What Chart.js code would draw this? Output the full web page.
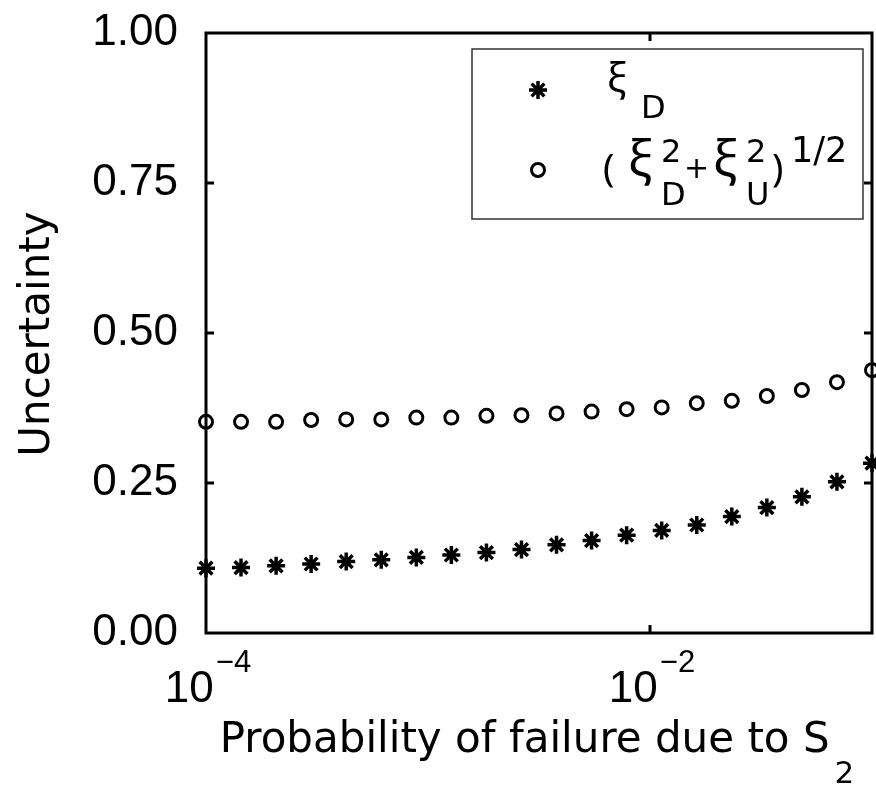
<!DOCTYPE html>
<html><head><meta charset="utf-8">
<script src="https://cdn.jsdelivr.net/npm/chart.js@4/dist/chart.umd.min.js"></script>
<style>html,body{margin:0;padding:0;background:#fff;overflow:hidden}canvas{display:block}</style>
</head><body><canvas id="c" width="876" height="785" style="width:876px;height:785px"></canvas>
<script>
// ---- data ----
const probability = [1.0e-4, 1.438e-4, 2.069e-4, 2.976e-4, 4.281e-4, 6.158e-4, 8.859e-4,
  1.274e-3, 1.833e-3, 2.637e-3, 3.793e-3, 5.456e-3, 7.848e-3,
  1.129e-2, 1.624e-2, 2.336e-2, 3.360e-2, 4.833e-2, 6.952e-2, 1.0e-1];
const xiD = [0.108, 0.109, 0.112, 0.115, 0.119, 0.122, 0.126, 0.130, 0.134, 0.139,
  0.147, 0.154, 0.163, 0.171, 0.180, 0.194, 0.209, 0.227, 0.252, 0.283];
const xiTotal = [0.352, 0.352, 0.352, 0.355, 0.356, 0.356, 0.359, 0.359, 0.362, 0.363,
  0.366, 0.369, 0.373, 0.376, 0.383, 0.387, 0.395, 0.405, 0.418, 0.438];
const yTickValues = [0, 0.25, 0.5, 0.75, 1.0];
const xTickValues = [1e-4, 1e-2];
const xTickBase = '10';
const xTickExponents = ['\u22124', '\u22122'];
const xTitle = 'Probability of failure due to S';
const xTitleSub = '2';
const yTitle = 'Uncertainty';

// ---- fonts ----
function hasFont(name){
  const c = document.createElement('canvas').getContext('2d');
  const s = '1.00 abcdefgUWm';
  c.font = '40px monospace'; const a = c.measureText(s).width;
  c.font = '40px "' + name + '", monospace'; const b = c.measureText(s).width;
  return Math.abs(a - b) > 0.5;
}
const NARROW = hasFont('Liberation Sans Narrow');
const tickFamily = NARROW ? '"Liberation Sans Narrow", "Liberation Sans"' : '"Liberation Sans"';
const tickSize = NARROW ? 48 : 44;
const supSize = NARROW ? 34 : 31;
const titleFamily = '"DejaVu Sans"';
const greekFamily = '"Noto Sans", "DejaVu Sans"';

function drawStar(ctx, x, y, r){
  ctx.beginPath();
  for (let k = 0; k < 4; k++){
    const a = k * Math.PI / 4;
    ctx.moveTo(x - r*Math.cos(a), y - r*Math.sin(a));
    ctx.lineTo(x + r*Math.cos(a), y + r*Math.sin(a));
  }
  ctx.stroke();
}

const framePlugin = {
  id: 'frame',
  beforeDatasetsDraw(chart){
    const {ctx, chartArea: a, scales: {x, y}} = chart;
    ctx.save();
    ctx.strokeStyle = '#000'; ctx.lineWidth = 3;
    ctx.strokeRect(a.left, a.top, a.right - a.left, a.bottom - a.top);
    ctx.beginPath();
    yTickValues.forEach(v => {
      if (v <= 0 || v >= 1) return;
      const py = y.getPixelForValue(v);
      ctx.moveTo(a.left, py); ctx.lineTo(a.left + 8, py);
      ctx.moveTo(a.right, py); ctx.lineTo(a.right - 8, py);
    });
    xTickValues.forEach(v => {
      const px = x.getPixelForValue(v);
      if (px <= a.left + 1 || px >= a.right - 1) return;
      ctx.moveTo(px, a.bottom); ctx.lineTo(px, a.bottom - 8);
      ctx.moveTo(px, a.top); ctx.lineTo(px, a.top + 8);
    });
    ctx.stroke();

    // x tick labels with superscript exponents
    ctx.fillStyle = '#000'; ctx.textAlign = 'left'; ctx.textBaseline = 'alphabetic';
    xTickValues.forEach((v, i) => {
      const px = x.getPixelForValue(v);
      ctx.font = tickSize + 'px ' + tickFamily; const w1 = ctx.measureText(xTickBase).width;
      ctx.font = supSize + 'px ' + tickFamily; const w2 = ctx.measureText(xTickExponents[i]).width;
      const total = w1 + 2 + w2, x0 = px + 2 - total / 2;
      ctx.font = tickSize + 'px ' + tickFamily; ctx.fillText(xTickBase, x0, a.bottom + 69);
      ctx.font = supSize + 'px ' + tickFamily; ctx.fillText(xTickExponents[i], x0 + w1 + 2, a.bottom + 39);
    });

    // x title with subscript
    ctx.font = '42px ' + titleFamily; const tw = ctx.measureText(xTitle).width;
    ctx.font = '31px ' + titleFamily; const sw = ctx.measureText(xTitleSub).width;
    const tx = (a.left + a.right) / 2 - 2 - (tw + 5 + sw) / 2;
    ctx.font = '42px ' + titleFamily; ctx.fillText(xTitle, tx, a.bottom + 119);
    ctx.font = '31px ' + titleFamily; ctx.fillText(xTitleSub, tx + tw + 5, a.bottom + 150);

    // y title
    ctx.save();
    ctx.translate(49, (a.top + a.bottom) / 2 + 1);
    ctx.rotate(-Math.PI / 2);
    ctx.textAlign = 'center';
    ctx.font = '42px ' + titleFamily;
    ctx.fillText(yTitle, 0, 0);
    ctx.restore();
    ctx.restore();
  },
  afterDatasetsDraw(chart){
    const ctx = chart.ctx;
    ctx.save();
    // legend box
    ctx.fillStyle = '#fff';
    ctx.fillRect(472, 49, 391, 170);
    ctx.strokeStyle = '#333'; ctx.lineWidth = 1.5;
    ctx.strokeRect(472, 49, 391, 170);
    // markers
    ctx.strokeStyle = '#000'; ctx.lineWidth = 3.5;
    drawStar(ctx, 538, 90, 9);
    ctx.lineWidth = 3;
    ctx.beginPath(); ctx.arc(538, 170, 6.5, 0, Math.PI * 2); ctx.stroke();
    // texts
    ctx.fillStyle = '#000'; ctx.textAlign = 'left'; ctx.textBaseline = 'alphabetic';
    const F = (s) => ctx.font = s + 'px ' + titleFamily;
    const G = (s) => ctx.font = s + 'px ' + greekFamily;
    G(40); ctx.fillText('\u03BE', 607, 92);
    F(32); ctx.fillText('D', 641, 118);
    G(38); ctx.fillText('(', 603, 181);
    G(50); ctx.fillText('\u03BE', 628, 176);
    F(32); ctx.fillText('2', 661, 162); ctx.fillText('D', 661, 205);
    F(30); ctx.fillText('+', 684, 178);
    G(50); ctx.fillText('\u03BE', 713, 176);
    F(32); ctx.fillText('2', 746, 162); ctx.fillText('U', 746, 205);
    G(38); ctx.fillText(')', 772, 181);
    F(35); ctx.fillText('1/2', 791, 162);
    ctx.restore();
  }
};

const pts = (ys) => probability.map((p, i) => ({x: p, y: ys[i]}));

new Chart(document.getElementById('c'), {
  type: 'scatter',
  data: {
    datasets: [
      { label: '\u03BE_D', data: pts(xiD), pointStyle: 'star', pointRadius: 9,
        borderColor: '#000', backgroundColor: '#000', pointBorderWidth: 3.5, showLine: false, clip: false },
      { label: '(\u03BE_D\u00B2+\u03BE_U\u00B2)^1/2', data: pts(xiTotal), pointStyle: 'circle', pointRadius: 6.5,
        borderColor: '#000', backgroundColor: 'rgba(0,0,0,0)', pointBorderWidth: 3, showLine: false, clip: false }
    ]
  },
  options: {
    responsive: false, animation: false, devicePixelRatio: 1,
    layout: { autoPadding: false, padding: { top: 33, right: 4, bottom: 152, left: 0 } },
    plugins: { legend: { display: false }, tooltip: { enabled: false } },
    scales: {
      x: { type: 'logarithmic', min: 1e-4, max: 1e-1, display: false },
      y: {
        min: 0, max: 1,
        afterBuildTicks: (s) => { s.ticks = yTickValues.map(v => ({value: v})); },
        afterFit: (s) => { s.width = 206; s.paddingTop = 0; s.paddingBottom = 0; s.paddingLeft = 0; s.paddingRight = 0; },
        grid: { display: false, drawTicks: false },
        border: { display: false },
        ticks: { color: '#000', padding: 28, font: { family: tickFamily, size: tickSize },
          callback: (v) => Number(v).toFixed(2) }
      }
    }
  },
  plugins: [framePlugin]
});
</script>
</body></html>
